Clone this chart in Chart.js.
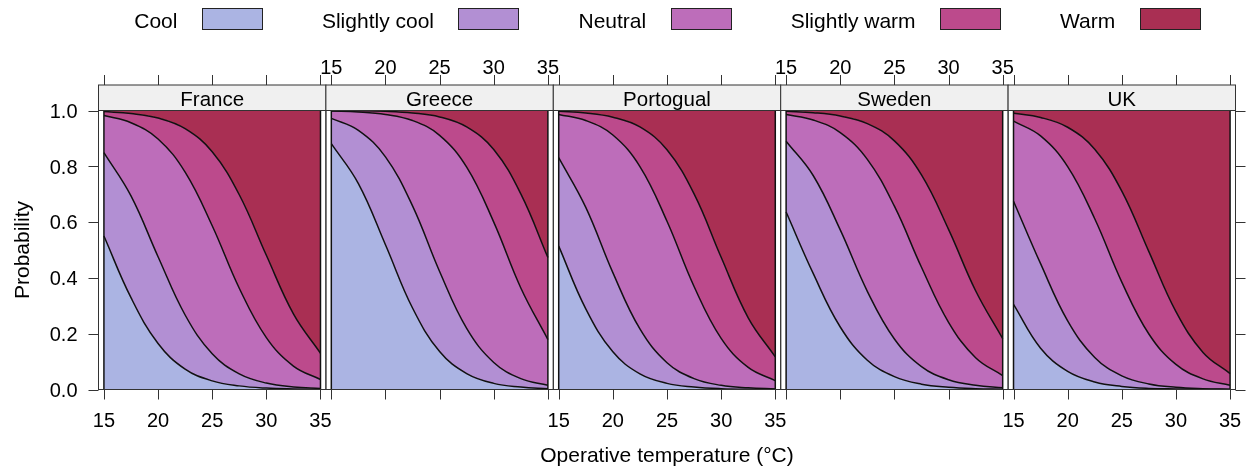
<!DOCTYPE html>
<html>
<head>
<meta charset="utf-8">
<script src="https://cdn.jsdelivr.net/npm/chart.js@4/dist/chart.umd.min.js"></script>
<style>
  html, body { margin: 0; padding: 0; background: #fff; }
  #wrap { position: relative; width: 1250px; height: 470px; background: #fff; overflow: hidden; }
  #wrap canvas { position: absolute; left: 0; top: 0; }
</style>
</head>
<body>
<div id="wrap"></div>
<script>
// Operative temperature grid (°C) at which the curves are sampled
const temps = [15, 17.5, 20, 22.5, 25, 27.5, 30, 32.5, 35];

const categories = ['Cool', 'Slightly cool', 'Neutral', 'Slightly warm', 'Warm'];
const categoryColors = ['#abb4e3', '#b28fd3', '#bd6dba', '#bc4a8c', '#a92f53'];
const countries = ['France', 'Greece', 'Portogual', 'Sweden', 'UK'];

const xTicks = [15, 20, 25, 30, 35];
const yTicks = [0, 0.2, 0.4, 0.6, 0.8, 1.0];
const yTickLabels = ['0.0', '0.2', '0.4', '0.6', '0.8', '1.0'];

// Cumulative probability of a vote at or below each category
const franceCool         = [0.550, 0.329, 0.165, 0.073, 0.031, 0.013, 0.005, 0.002, 0.001];
const franceSlightlyCool = [0.849, 0.694, 0.476, 0.267, 0.128, 0.056, 0.023, 0.009, 0.004];
const franceNeutral      = [0.982, 0.956, 0.898, 0.779, 0.587, 0.363, 0.186, 0.084, 0.036];
const franceSlightlyWarm = [0.996, 0.989, 0.973, 0.935, 0.852, 0.698, 0.481, 0.271, 0.130];

const greeceCool         = [0.881, 0.738, 0.519, 0.292, 0.136, 0.057, 0.022, 0.009, 0.003];
const greeceSlightlyCool = [0.972, 0.929, 0.834, 0.658, 0.423, 0.219, 0.097, 0.039, 0.015];
const greeceNeutral      = [0.998, 0.995, 0.986, 0.964, 0.911, 0.797, 0.600, 0.364, 0.179];
const greeceSlightlyWarm = [0.999, 0.999, 0.997, 0.991, 0.977, 0.941, 0.860, 0.701, 0.473];

const portugalCool         = [0.514, 0.289, 0.135, 0.056, 0.022, 0.009, 0.003, 0.001, 0.001];
const portugalSlightlyCool = [0.831, 0.653, 0.419, 0.217, 0.096, 0.039, 0.015, 0.006, 0.002];
const portugalNeutral      = [0.986, 0.964, 0.912, 0.799, 0.603, 0.369, 0.183, 0.079, 0.032];
const portugalSlightlyWarm = [0.997, 0.991, 0.976, 0.941, 0.859, 0.701, 0.474, 0.257, 0.117];

const swedenCool         = [0.636, 0.416, 0.224, 0.105, 0.046, 0.019, 0.008, 0.003, 0.001];
const swedenSlightlyCool = [0.890, 0.767, 0.572, 0.352, 0.181, 0.082, 0.035, 0.015, 0.006];
const swedenNeutral      = [0.986, 0.966, 0.921, 0.825, 0.657, 0.438, 0.241, 0.114, 0.050];
const swedenSlightlyWarm = [0.997, 0.992, 0.980, 0.953, 0.891, 0.769, 0.574, 0.354, 0.182];

const ukCool         = [0.305, 0.148, 0.065, 0.027, 0.011, 0.004, 0.002, 0.001, 0.000];
const ukSlightlyCool = [0.675, 0.451, 0.246, 0.115, 0.049, 0.020, 0.008, 0.003, 0.001];
const ukNeutral      = [0.962, 0.909, 0.799, 0.612, 0.385, 0.199, 0.090, 0.038, 0.015];
const ukSlightlyWarm = [0.990, 0.975, 0.940, 0.861, 0.711, 0.494, 0.279, 0.133, 0.057];

const cumulativeByCountry = [
  [franceCool, franceSlightlyCool, franceNeutral, franceSlightlyWarm],
  [greeceCool, greeceSlightlyCool, greeceNeutral, greeceSlightlyWarm],
  [portugalCool, portugalSlightlyCool, portugalNeutral, portugalSlightlyWarm],
  [swedenCool, swedenSlightlyCool, swedenNeutral, swedenSlightlyWarm],
  [ukCool, ukSlightlyCool, ukNeutral, ukSlightlyWarm]
];

// Page geometry of the panel row
const W = 1250, H = 470;
const PANEL_LEFT = 98.5, PANEL_W = 227.4;
const PANEL_TOP = 110.5, PANEL_BOTTOM = 389.5;
const STRIP_TOP = 85;
const TICK = 10;
const FONT = '"Liberation Sans", Arial, Helvetica, sans-serif';
const FRAME = '#333333';
const INK = '#111111';
const CURVE_W = 1.5;

function panelDecor(index) {
  const labelsBottom = index % 2 === 0;
  return {
    id: 'panelDecor' + index,
    afterDatasetsDraw(chart) {
      const { ctx, scales: { x, y } } = chart;
      // closing edges of the stacked polygons at both ends of the range
      ctx.save();
      ctx.strokeStyle = INK;
      ctx.lineWidth = CURVE_W;
      [temps[0], temps[temps.length - 1]].forEach(t => {
        const px = x.getPixelForValue(t);
        ctx.beginPath();
        ctx.moveTo(px, y.getPixelForValue(0));
        ctx.lineTo(px, y.getPixelForValue(1));
        ctx.stroke();
      });
      ctx.restore();
    },
    afterDraw(chart) {
      const { ctx, chartArea: a, scales: { x, y } } = chart;
      ctx.save();
      // strip with country name
      ctx.fillStyle = '#f0f0f0';
      ctx.fillRect(a.left, STRIP_TOP, a.right - a.left, a.top - STRIP_TOP);
      ctx.strokeStyle = FRAME;
      ctx.lineWidth = 1;
      ctx.strokeRect(a.left, STRIP_TOP, a.right - a.left, a.top - STRIP_TOP);
      ctx.fillStyle = '#000';
      ctx.font = '20.5px ' + FONT;
      ctx.textAlign = 'center';
      ctx.textBaseline = 'alphabetic';
      ctx.fillText(countries[index], (a.left + a.right) / 2, 105.5);

      // panel frame
      ctx.strokeRect(a.left, a.top, a.right - a.left, a.bottom - a.top);

      // x ticks on top (above the strip) and at the bottom
      ctx.beginPath();
      xTicks.forEach(t => {
        const px = Math.round(x.getPixelForValue(t)) + 0.5;
        ctx.moveTo(px, STRIP_TOP - TICK);
        ctx.lineTo(px, STRIP_TOP);
        ctx.moveTo(px, a.bottom);
        ctx.lineTo(px, a.bottom + TICK);
      });
      ctx.stroke();

      ctx.font = '20px ' + FONT;
      ctx.textAlign = 'center';
      xTicks.forEach(t => {
        const px = x.getPixelForValue(t);
        if (labelsBottom) ctx.fillText(String(t), px, 426.5);
        else ctx.fillText(String(t), px, 74);
      });

      // y ticks: labelled on the left of the first panel, bare on the right of the last
      if (index === 0 || index === countries.length - 1) {
        ctx.beginPath();
        yTicks.forEach(v => {
          const py = Math.round(y.getPixelForValue(v)) + 0.5;
          if (index === 0) {
            ctx.moveTo(a.left - TICK, py);
            ctx.lineTo(a.left, py);
          } else {
            ctx.moveTo(a.right, py);
            ctx.lineTo(a.right + TICK, py);
          }
        });
        ctx.stroke();
      }
      if (index === 0) {
        ctx.textAlign = 'right';
        yTicks.forEach((v, k) => {
          ctx.fillText(yTickLabels[k], a.left - 21, y.getPixelForValue(v) + 7.2);
        });
      }
      ctx.restore();
    }
  };
}

// Shared titles and the key across the top
const pageDecor = {
  id: 'pageDecor',
  afterDraw(chart) {
    const { ctx } = chart;
    const first = PANEL_LEFT, last = PANEL_LEFT + PANEL_W * countries.length;
    const cx = (first + last) / 2;
    ctx.save();
    ctx.fillStyle = '#000';
    ctx.font = '21px ' + FONT;
    ctx.textBaseline = 'alphabetic';

    ctx.textAlign = 'center';
    ctx.fillText('Operative temperature (°C)', cx, 461.5);

    ctx.save();
    ctx.translate(28.5, (PANEL_TOP + PANEL_BOTTOM) / 2);
    ctx.rotate(-Math.PI / 2);
    ctx.fillText('Probability', 0, 0);
    ctx.restore();

    // key: label followed by its swatch
    const gapText = 24.5, boxW = 60, boxH = 21, gapItem = 60;
    const widths = categories.map(c => ctx.measureText(c).width);
    const total = widths.reduce((s, w) => s + w + gapText + boxW, 0) + gapItem * (categories.length - 1);
    let px = cx - total / 2;
    ctx.textAlign = 'left';
    categories.forEach((c, k) => {
      ctx.fillStyle = '#000';
      ctx.fillText(c, px, 27.5);
      px += widths[k] + gapText;
      ctx.fillStyle = categoryColors[k];
      ctx.fillRect(Math.round(px) + 0.5, 8.5, boxW, boxH);
      ctx.strokeStyle = '#222';
      ctx.lineWidth = 1;
      ctx.strokeRect(Math.round(px) + 0.5, 8.5, boxW, boxH);
      px += boxW + gapItem;
    });
    ctx.restore();
  }
};

const wrap = document.getElementById('wrap');

countries.forEach((country, i) => {
  const canvas = document.createElement('canvas');
  canvas.width = W;
  canvas.height = H;
  canvas.style.width = W + 'px';
  canvas.style.height = H + 'px';
  wrap.appendChild(canvas);

  const left = PANEL_LEFT + i * PANEL_W;
  const right = left + PANEL_W;
  const bounds = cumulativeByCountry[i];

  const datasets = categories.map((name, k) => {
    const edge = bounds[Math.min(k, bounds.length - 1)];
    const isTop = k === categories.length - 1;
    return {
      label: name,
      data: temps.map((t, j) => ({ x: t, y: edge[j] })),
      backgroundColor: categoryColors[k],
      borderColor: isTop ? 'rgba(0,0,0,0)' : INK,
      borderWidth: isTop ? 0 : CURVE_W,
      fill: k === 0 ? 'origin' : (isTop ? { value: 1 } : '-1'),
      pointRadius: 0,
      tension: 0.4
    };
  });

  new Chart(canvas, {
    type: 'line',
    data: { datasets },
    options: {
      responsive: false,
      animation: false,
      devicePixelRatio: 1,
      events: [],
      layout: { padding: { left: left, right: W - right, top: PANEL_TOP, bottom: H - PANEL_BOTTOM } },
      scales: {
        x: { type: 'linear', min: 14.5, max: 35.5, display: false },
        y: { type: 'linear', min: 0, max: 1, display: false }
      },
      plugins: {
        legend: { display: false },
        tooltip: { enabled: false },
        title: { display: false },
        filler: { drawTime: 'beforeDatasetsDraw' }
      }
    },
    plugins: i === 0 ? [panelDecor(i), pageDecor] : [panelDecor(i)]
  });
});
</script>
</body>
</html>
